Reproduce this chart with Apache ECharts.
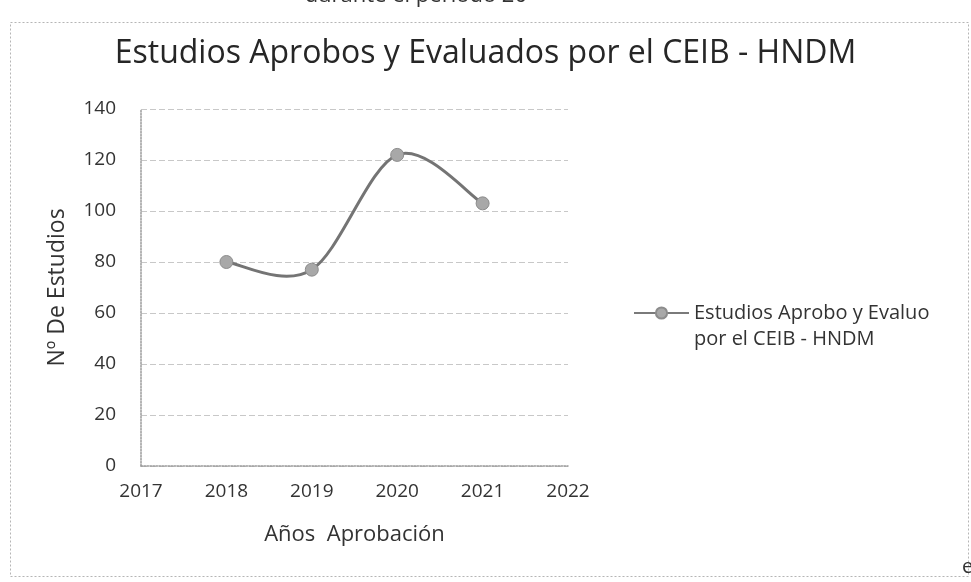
<!DOCTYPE html>
<html>
<head>
<meta charset="utf-8">
<script src="https://cdn.jsdelivr.net/npm/echarts@6/dist/echarts.min.js"></script>
<style>
html,body{margin:0;padding:0;background:#fff;}
#chart{width:971px;height:582px;}
</style>
</head>
<body>
<div id="chart"></div>
<script>
// Data
var years = [2018, 2019, 2020, 2021];
var estudios = [80, 77, 122, 103];
var xTickMin = 2017, xTickMax = 2022;
var yTickMin = 0, yTickMax = 140, yTickStep = 20;
var seriesName = 'Estudios Aprobo y Evaluo\npor el CEIB - HNDM';
var titleText = 'Estudios Aprobos y Evaluados por el CEIB - HNDM';
var topText = 'durante el periodo 20';
var xAxisName = 'Años  Aprobación';
var yAxisName = 'Nº De Estudios';

var font = '"Open Sans", "Noto Sans", sans-serif';
var chart = echarts.init(document.getElementById('chart'), null, {renderer: 'canvas'});

var pts = years.map(function (y, i) { return [y, estudios[i]]; });

// Excel-like smoothed curve (Catmull-Rom to Bezier), computed from data through the axes
function renderCurve(params, api) {
  if (params.dataIndex !== 0) return;
  var P = pts.map(function (p) { return api.coord(p); });
  var children = [];
  for (var i = 0; i < P.length - 1; i++) {
    var p0 = P[i - 1] || P[i], p1 = P[i], p2 = P[i + 1], p3 = P[i + 2] || P[i + 1];
    children.push({
      type: 'bezierCurve',
      shape: {
        x1: p1[0], y1: p1[1], x2: p2[0], y2: p2[1],
        cpx1: p1[0] + (p2[0] - p0[0]) / 6, cpy1: p1[1] + (p2[1] - p0[1]) / 6,
        cpx2: p2[0] - (p3[0] - p1[0]) / 6, cpy2: p2[1] - (p3[1] - p1[1]) / 6
      },
      style: {stroke: '#747474', lineWidth: 3, fill: null, lineCap: 'round'}
    });
  }
  return {type: 'group', children: children};
}

chart.setOption({
  backgroundColor: '#ffffff',
  animation: false,
  title: {
    text: titleText,
    left: 'center',
    top: 33,
    textStyle: {fontFamily: font, fontSize: 32, fontWeight: 'normal', color: '#262626'}
  },
  graphic: [
    {type: 'rect', left: 8, top: 20, shape: {width: 958, height: 554},
     style: {fill: 'none', stroke: '#b5b5b5', lineWidth: 1, lineDash: [2, 2]}, silent: true},
    {type: 'text', x: 527, y: -15,
     style: {text: topText, font: '22px "Open Sans", sans-serif', fill: '#333', align: 'right', verticalAlign: 'top'}},
    {type: 'text', x: 962, y: 557,
     style: {text: 'e', font: '20px "Open Sans", sans-serif', fill: '#333', align: 'left', verticalAlign: 'top'}}
  ],
  legend: {
    data: [seriesName],
    left: 633,
    top: 274,
    padding: 0,
    itemWidth: 55,
    itemHeight: 14,
    itemGap: 4,
    formatter: function (name) { return '\n' + name; },
    lineStyle: {opacity: 1, color: '#7a7a7a', width: 2},
    textStyle: {fontFamily: font, fontSize: 20, color: '#333', lineHeight: 26}
  },
  grid: {left: 141, right: 403, top: 109, bottom: 116, containLabel: false},
  xAxis: {
    type: 'value',
    min: xTickMin, max: xTickMax, interval: 1,
    name: xAxisName,
    nameLocation: 'middle',
    nameGap: 58,
    nameTextStyle: {fontFamily: font, fontSize: 22, color: '#333'},
    axisLine: {show: true, lineStyle: {color: '#9a9a9a', type: 'dotted', width: 1.5}},
    axisTick: {show: false},
    splitLine: {show: false},
    axisLabel: {fontFamily: font, fontSize: 19, color: '#333', margin: 16,
      formatter: function (v) { return String(v); }}
  },
  yAxis: {
    type: 'value',
    min: yTickMin, max: yTickMax, interval: yTickStep,
    name: yAxisName,
    nameLocation: 'middle',
    nameGap: 72,
    nameTextStyle: {fontFamily: font, fontSize: 23, color: '#333'},
    axisLine: {show: true, lineStyle: {color: '#9a9a9a', type: 'dotted', width: 1.5}},
    axisTick: {show: false},
    splitLine: {show: true, lineStyle: {color: '#c8c8c8', type: [6, 3], width: 1}},
    axisLabel: {fontFamily: font, fontSize: 19, color: '#333', margin: 25}
  },
  series: [{
    name: 'curve',
    type: 'custom',
    data: pts,
    z: 2,
    silent: true,
    renderItem: renderCurve
  }, {
    name: seriesName,
    type: 'line',
    data: pts,
    z: 3,
    symbol: 'circle',
    symbolSize: 13,
    lineStyle: {color: '#7a7a7a', width: 3, opacity: 0},
    itemStyle: {color: '#a8a8a8', borderColor: '#8c8c8c', borderWidth: 1}
  }]
});
</script>
</body>
</html>
